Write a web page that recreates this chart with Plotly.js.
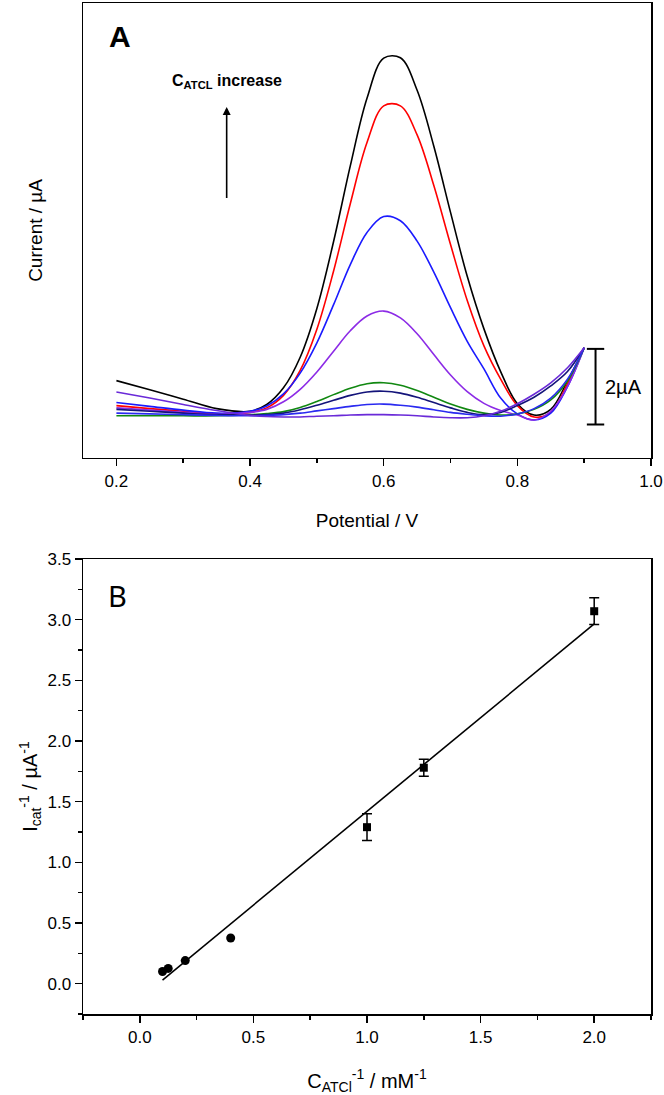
<!DOCTYPE html>
<html>
<head>
<meta charset="utf-8">
<script src="https://cdn.plot.ly/plotly-3.0.1.min.js"></script>
<style>
html,body{margin:0;padding:0;background:#fff}
#myDiv{width:664px;height:1095px}
</style>
</head>
<body>
<div id="myDiv"></div>
<script>
// panel A: DPV curves, potential in V, current in uA (relative to baseline)
var potential = [0.2,0.25,0.3,0.35,0.4,0.425,0.45,0.475,0.5,0.525,0.55,0.575,0.6,0.625,0.65,0.675,0.7,0.725,0.75,0.775,0.8,0.825,0.85,0.875,0.9]
var iBlack   = [0.96,0.72,0.47,0.22,0.15,0.33,0.77,1.58,2.87,4.64,6.64,8.43,9.49,9.50,8.64,7.16,5.41,3.72,2.33,1.2,0.35,0.05,0.2,0.95,1.83]
var iRed     = [0.3,0.22,0.15,0.08,0.12,0.24,0.57,1.23,2.32,3.86,5.64,7.26,8.23,8.23,7.46,6.12,4.56,3.08,1.88,1.0,0.3,0.0,0.12,0.88,1.83]
var iBlue    = [0.38,0.28,0.18,0.1,0.15,0.29,0.61,1.16,1.96,2.97,4.03,4.88,5.30,5.19,4.65,3.83,2.89,2.0,1.27,0.5,0.08,-0.08,0.1,0.8,1.83]
var iPurple  = [0.24,0.18,0.12,0.07,0.12,0.2,0.4,0.73,1.19,1.74,2.28,2.67,2.8,2.62,2.2,1.65,1.11,0.67,0.36,0.17,0.05,-0.08,0.15,0.8,1.83]
var iGreen   = [0.03,0.03,0.03,0.03,0.06,0.09,0.14,0.25,0.41,0.59,0.76,0.88,0.905,0.84,0.70,0.52,0.34,0.2,0.1,0.05,0.08,0.2,0.45,0.95,1.83]
var iNavy    = [0.2,0.15,0.1,0.06,0.05,0.06,0.1,0.19,0.31,0.44,0.57,0.66,0.68,0.63,0.52,0.38,0.24,0.12,0.06,0.12,0.3,0.52,0.82,1.2,1.83]
var iBlueLow = [0.1,0.08,0.06,0.04,0.03,0.04,0.06,0.1,0.16,0.22,0.28,0.33,0.34,0.31,0.26,0.19,0.12,0.07,0.03,0.02,0.08,0.22,0.5,1.0,1.83]
var iViolet  = [0.66,0.5,0.33,0.17,0.04,0.01,0.0,0.0,0.02,0.03,0.05,0.06,0.06,0.05,0.03,0.0,-0.02,-0.02,0.03,0.15,0.35,0.6,0.9,1.3,1.83]

var curves = [iBlack,iRed,iBlue,iPurple,iGreen,iNavy,iBlueLow,iViolet]
var curveColors = ['#000000','#ff0000','#1a1aff','#8c2be6','#118811','#14147a','#2a2af0','#6a2ad8']

// panel B: reciprocal plot
var invC    = [0.1,0.125,0.2,0.4,1.0,1.25,2.0]
var invI    = [0.1,0.126,0.19,0.376,1.29,1.78,3.07]
var invIErr = [0,0,0,0,0.11,0.07,0.11]
var fitX = [0.1,2.0]
var fitY = [0.03,2.965]

var data = []
for (var c=0;c<curves.length;c++){
	data.push({
		x:potential,
		y:curves[c],
		xaxis:'x',
		yaxis:'y',
		type:'scatter',
		mode:'lines',
		line:{color:curveColors[c],width:1.6,shape:'spline',smoothing:1},
		showlegend:false
	})
}
data.push({
	x:fitX,
	y:fitY,
	xaxis:'x2',
	yaxis:'y2',
	type:'scatter',
	mode:'lines',
	line:{color:'#000',width:1.6},
	showlegend:false
})

// low 1/C points (circles, no visible error bars) and high ones (squares with error bars)
var lowIdx=[], highIdx=[]
for (var i=0;i<invC.length;i++){
	if (invIErr[i]==0) lowIdx.push(i)
	else highIdx.push(i)
}
function pick(arr,idx){return idx.map(function(k){return arr[k]})}

data.push({
	x:pick(invC,lowIdx),
	y:pick(invI,lowIdx),
	xaxis:'x2',
	yaxis:'y2',
	type:'scatter',
	mode:'markers',
	marker:{color:'#000',size:9,symbol:'circle'},
	showlegend:false
})
data.push({
	x:pick(invC,highIdx),
	y:pick(invI,highIdx),
	xaxis:'x2',
	yaxis:'y2',
	type:'scatter',
	mode:'markers',
	marker:{color:'#000',size:8,symbol:'square'},
	error_y:{type:'data',array:pick(invIErr,highIdx),visible:true,color:'#000',thickness:1.5,width:5},
	showlegend:false
})

var tickFont = {family:'Liberation Sans, Arial, sans-serif',size:17,color:'#000'}
var titleFont = {family:'Liberation Sans, Arial, sans-serif',size:19,color:'#000'}

var layout = {
	width:664,
	height:1095,
	margin:{l:83,r:13,t:3,b:81},
	paper_bgcolor:'#fff',
	plot_bgcolor:'#fff',
	xaxis:{
		domain:[0,1],anchor:'y',
		range:[0.15,1.0],tick0:0.2,dtick:0.2,
		ticks:'outside',ticklen:7,tickwidth:1.5,tickcolor:'#000',
		minor:{dtick:0.1,ticks:'outside',ticklen:4,tickwidth:1.5,tickcolor:'#000'},
		showline:true,mirror:true,linecolor:'#000',linewidth:1.5,
		showgrid:false,zeroline:false,
		tickfont:tickFont,tickformat:'.1f',
		title:{text:'Potential / V',font:titleFont,standoff:24}
	},
	yaxis:{
		domain:[0.55,1],anchor:'x',
		range:[-1.085,10.95],
		showticklabels:false,ticks:'',
		showline:true,mirror:true,linecolor:'#000',linewidth:1.5,
		showgrid:false,zeroline:false,
		title:{text:'Current / µA',font:titleFont,standoff:34}
	},
	xaxis2:{
		domain:[0,1],anchor:'y2',
		range:[-0.25,2.25],tick0:0,dtick:0.5,
		ticks:'outside',ticklen:7,tickwidth:1.5,tickcolor:'#000',
		minor:{dtick:0.25,ticks:'outside',ticklen:4,tickwidth:1.5,tickcolor:'#000'},
		showline:true,mirror:true,linecolor:'#000',linewidth:1.5,
		showgrid:false,zeroline:false,
		tickfont:tickFont,tickformat:'.1f',
		title:{text:'C<sub>ATCl</sub><sup>-1</sup> / mM<sup>-1</sup>',font:{family:'Liberation Sans, Arial, sans-serif',size:20,color:'#000'},standoff:30}
	},
	yaxis2:{
		domain:[0,0.45],anchor:'x2',
		range:[-0.25,3.5],tick0:0,dtick:0.5,
		ticks:'outside',ticklen:7,tickwidth:1.5,tickcolor:'#000',
		minor:{dtick:0.25,ticks:'outside',ticklen:4,tickwidth:1.5,tickcolor:'#000'},
		showline:true,mirror:true,linecolor:'#000',linewidth:1.5,
		showgrid:false,zeroline:false,
		tickfont:tickFont,tickformat:'.1f',
		title:{text:'I<sub>cat</sub><sup>-1</sup> / µA<sup>-1</sup>',font:{family:'Liberation Sans, Arial, sans-serif',size:20,color:'#000'},standoff:4}
	},
	shapes:[
		// 2 uA scale bar
		{type:'line',xref:'x',yref:'y',x0:0.917,x1:0.917,y0:-0.2,y1:1.8,line:{color:'#000',width:2}},
		{type:'line',xref:'x',yref:'y',x0:0.904,x1:0.930,y0:1.8,y1:1.8,line:{color:'#000',width:2}},
		{type:'line',xref:'x',yref:'y',x0:0.904,x1:0.930,y0:-0.2,y1:-0.2,line:{color:'#000',width:2}}
	],
	annotations:[
		{xref:'paper',yref:'paper',x:0.065,y:0.985,xanchor:'center',yanchor:'top',showarrow:false,
			text:'<b>A</b>',font:{family:'Liberation Sans Narrow, Liberation Sans, Arial, sans-serif',size:30,color:'#000'}},
		{xref:'paper',yref:'paper',x:0.06,y:0.414,xanchor:'center',yanchor:'middle',showarrow:false,
			text:'B',font:{family:'Noto Sans, DejaVu Sans, sans-serif',size:29,color:'#000'}},
		{xref:'x',yref:'y',x:0.365,y:8.25,xanchor:'center',yanchor:'bottom',showarrow:false,yshift:12,
			text:'<b>C<sub>ATCL</sub> increase</b>',font:{family:'Liberation Sans Narrow, Liberation Sans, Arial, sans-serif',size:16,color:'#000'}},
		{xref:'x',yref:'y',axref:'x',ayref:'y',x:0.365,y:8.2,ax:0.365,ay:5.75,text:'',showarrow:true,
			arrowhead:2,arrowsize:1,arrowwidth:1.6,arrowcolor:'#000'},
		{xref:'x',yref:'y',x:0.928,y:0.8,xanchor:'left',yanchor:'middle',showarrow:false,
			text:'2µA',font:{family:'Liberation Sans, Arial, sans-serif',size:20,color:'#000'}}
	]
}

Plotly.newPlot('myDiv',data,layout,{staticPlot:true})
</script>
</body>
</html>
